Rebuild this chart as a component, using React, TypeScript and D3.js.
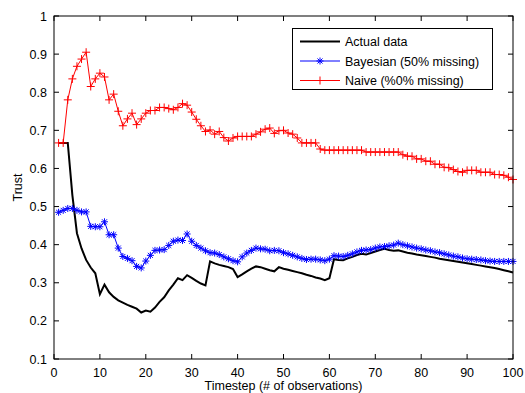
import React from "react";
import * as d3 from "d3";

// Trust estimates per timestep (t = 1..100)
const actual: number[] = [
  0.667, 0.667, 0.667, 0.53, 0.43, 0.39, 0.36, 0.34, 0.325, 0.27,
  0.295, 0.275, 0.263, 0.254, 0.248, 0.242, 0.237, 0.232, 0.222, 0.227,
  0.224, 0.235, 0.25, 0.262, 0.28, 0.295, 0.312, 0.307, 0.32, 0.313,
  0.305, 0.298, 0.293, 0.356, 0.351, 0.347, 0.344, 0.341, 0.336, 0.315,
  0.322, 0.33, 0.337, 0.343, 0.341, 0.337, 0.333, 0.33, 0.341, 0.337,
  0.334, 0.331, 0.328, 0.325, 0.321, 0.318, 0.314, 0.311, 0.307, 0.312,
  0.362, 0.36, 0.359, 0.364, 0.368, 0.373, 0.376, 0.374, 0.378, 0.382,
  0.386, 0.389, 0.386, 0.384, 0.385, 0.382, 0.379, 0.377, 0.374, 0.372,
  0.37, 0.368, 0.366, 0.363, 0.361, 0.359, 0.357, 0.355, 0.353, 0.351,
  0.349, 0.347, 0.345, 0.343, 0.341, 0.339, 0.336, 0.333, 0.33, 0.327,
];

const bayesian: number[] = [
  0.485, 0.49, 0.495, 0.495, 0.49, 0.486, 0.486, 0.448, 0.447, 0.447,
  0.46, 0.426, 0.426, 0.391, 0.369, 0.364, 0.358, 0.343, 0.339, 0.357,
  0.372, 0.385, 0.386, 0.387, 0.398, 0.409, 0.412, 0.411, 0.428, 0.409,
  0.398, 0.391, 0.384, 0.379, 0.378, 0.374, 0.368, 0.363, 0.358, 0.355,
  0.368, 0.378, 0.385, 0.391, 0.389, 0.388, 0.384, 0.385, 0.384, 0.379,
  0.376, 0.372, 0.368, 0.364, 0.361, 0.362, 0.362, 0.36, 0.358, 0.362,
  0.371, 0.37, 0.369, 0.372, 0.376, 0.381, 0.385, 0.386, 0.387, 0.391,
  0.394, 0.395, 0.397, 0.399, 0.404, 0.4, 0.397, 0.394, 0.391, 0.389,
  0.386, 0.384, 0.381, 0.379, 0.376, 0.373, 0.37, 0.368, 0.365, 0.363,
  0.362, 0.361, 0.36, 0.358, 0.357, 0.356, 0.356, 0.356, 0.356, 0.356,
];

const naive: number[] = [
  0.667, 0.667, 0.78, 0.835, 0.868, 0.887, 0.905, 0.815, 0.835, 0.85,
  0.84, 0.78, 0.795, 0.75, 0.712, 0.73, 0.745, 0.715, 0.73, 0.745,
  0.752, 0.752, 0.76, 0.76, 0.757, 0.754, 0.76, 0.77, 0.766, 0.748,
  0.729, 0.712, 0.697, 0.701, 0.69, 0.697, 0.681, 0.672, 0.68, 0.684,
  0.684, 0.684, 0.684, 0.69, 0.696, 0.703, 0.706, 0.692, 0.699, 0.7,
  0.693, 0.69, 0.68, 0.667, 0.667, 0.667, 0.667, 0.651, 0.648, 0.648,
  0.648, 0.648, 0.648, 0.648, 0.648, 0.648, 0.648, 0.643, 0.643, 0.643,
  0.643, 0.643, 0.643, 0.643, 0.643, 0.636, 0.632, 0.632, 0.625, 0.625,
  0.619, 0.619, 0.611, 0.611, 0.603, 0.602, 0.597, 0.592, 0.59, 0.595,
  0.595, 0.595, 0.59, 0.59, 0.59, 0.584, 0.584, 0.582, 0.577, 0.571,
];

const xTicks: number[] = [0, 10, 20, 30, 40, 50, 60, 70, 80, 90, 100];
const yTicks: number[] = [0.1, 0.2, 0.3, 0.4, 0.5, 0.6, 0.7, 0.8, 0.9, 1];

const legendLabels: string[] = [
  "Actual data",
  "Bayesian (50% missing)",
  "Naive (%0% missing)",
];

const W = 525;
const H = 393;
const left = 54;
const right = 513;
const top = 16;
const bottom = 359;
const font = "'Liberation Sans', Arial, sans-serif";

const x = d3.scaleLinear().domain([0, 100]).range([left, right]);
const y = d3.scaleLinear().domain([0.1, 1]).range([bottom, top]);

const line = d3
  .line<number>()
  .x((_, i) => x(i + 1))
  .y((d) => y(d));

function Plus({ cx, cy, r, color }: { cx: number; cy: number; r: number; color: string }) {
  return (
    <path
      d={`M${cx - r},${cy}H${cx + r}M${cx},${cy - r}V${cy + r}`}
      stroke={color}
      strokeWidth={1}
      fill="none"
    />
  );
}

function Star({ cx, cy, r, color }: { cx: number; cy: number; r: number; color: string }) {
  const d = r * 0.72;
  return (
    <path
      d={`M${cx - r},${cy}H${cx + r}M${cx},${cy - r}V${cy + r}M${cx - d},${cy - d}L${cx + d},${cy + d}M${cx - d},${cy + d}L${cx + d},${cy - d}`}
      stroke={color}
      strokeWidth={1}
      fill="none"
    />
  );
}

export default function App() {
  const tickLen = 5;
  const legX = 292.5;
  const legY = 28.5;
  const legW = 200;
  const legH = 61;
  const legRows = [41.5, 61, 80.5];
  return (
    <svg
      width={W}
      height={H}
      style={{ position: "absolute", left: 0, top: 0, background: "#fff" }}
      fontFamily={font}
    >
      <rect x={0} y={0} width={W} height={H} fill="#fff" />

      {/* series */}
      <path d={line(actual) ?? ""} fill="none" stroke="#000" strokeWidth={2} />
      <path d={line(bayesian) ?? ""} fill="none" stroke="#0000ff" strokeWidth={1} />
      {bayesian.map((v, i) => (
        <Star key={`b${i}`} cx={x(i + 1)} cy={y(v)} r={3.5} color="#0000ff" />
      ))}
      <path d={line(naive) ?? ""} fill="none" stroke="#ff0000" strokeWidth={1} />
      {naive.map((v, i) => (
        <Plus key={`n${i}`} cx={x(i + 1)} cy={y(v)} r={4} color="#ff0000" />
      ))}

      {/* axes box */}
      <rect
        x={left}
        y={top}
        width={right - left}
        height={bottom - top}
        fill="none"
        stroke="#000"
        strokeWidth={1}
      />
      {xTicks.map((t) => (
        <g key={`xt${t}`}>
          <line x1={x(t)} x2={x(t)} y1={bottom} y2={bottom - tickLen} stroke="#000" />
          <line x1={x(t)} x2={x(t)} y1={top} y2={top + tickLen} stroke="#000" />
          <text
            x={x(t)}
            y={bottom + 18}
            textAnchor="middle"
            fontSize={12.5}
            fill="#000"
          >
            {t}
          </text>
        </g>
      ))}
      {yTicks.map((t) => (
        <g key={`yt${t}`}>
          <line x1={left} x2={left + tickLen} y1={y(t)} y2={y(t)} stroke="#000" />
          <line x1={right} x2={right - tickLen} y1={y(t)} y2={y(t)} stroke="#000" />
          <text
            x={left - 7}
            y={y(t) + 4.5}
            textAnchor="end"
            fontSize={12.5}
            fill="#000"
          >
            {t === 1 ? "1" : t.toFixed(1)}
          </text>
        </g>
      ))}

      {/* axis titles */}
      <text
        x={(left + right) / 2}
        y={389.5}
        textAnchor="middle"
        fontSize={12.5}
        fill="#000"
      >
        Timestep (# of observations)
      </text>
      <text
        transform={`translate(22,${(top + bottom) / 2}) rotate(-90)`}
        textAnchor="middle"
        fontSize={12.5}
        fill="#000"
      >
        Trust
      </text>

      {/* legend */}
      <rect x={legX} y={legY} width={legW} height={legH} fill="#fff" stroke="#000" strokeWidth={1} />
      <line x1={300} x2={340} y1={legRows[0]} y2={legRows[0]} stroke="#000" strokeWidth={2} />
      <line x1={300} x2={340} y1={legRows[1]} y2={legRows[1]} stroke="#0000ff" strokeWidth={1} />
      <Star cx={320} cy={legRows[1]} r={3.5} color="#0000ff" />
      <line x1={300} x2={340} y1={legRows[2]} y2={legRows[2]} stroke="#ff0000" strokeWidth={1} />
      <Plus cx={320} cy={legRows[2]} r={4} color="#ff0000" />
      {legendLabels.map((label, i) => (
        <text key={label} x={345} y={legRows[i] + 4.5} fontSize={12.5} fill="#000">
          {label}
        </text>
      ))}
    </svg>
  );
}
